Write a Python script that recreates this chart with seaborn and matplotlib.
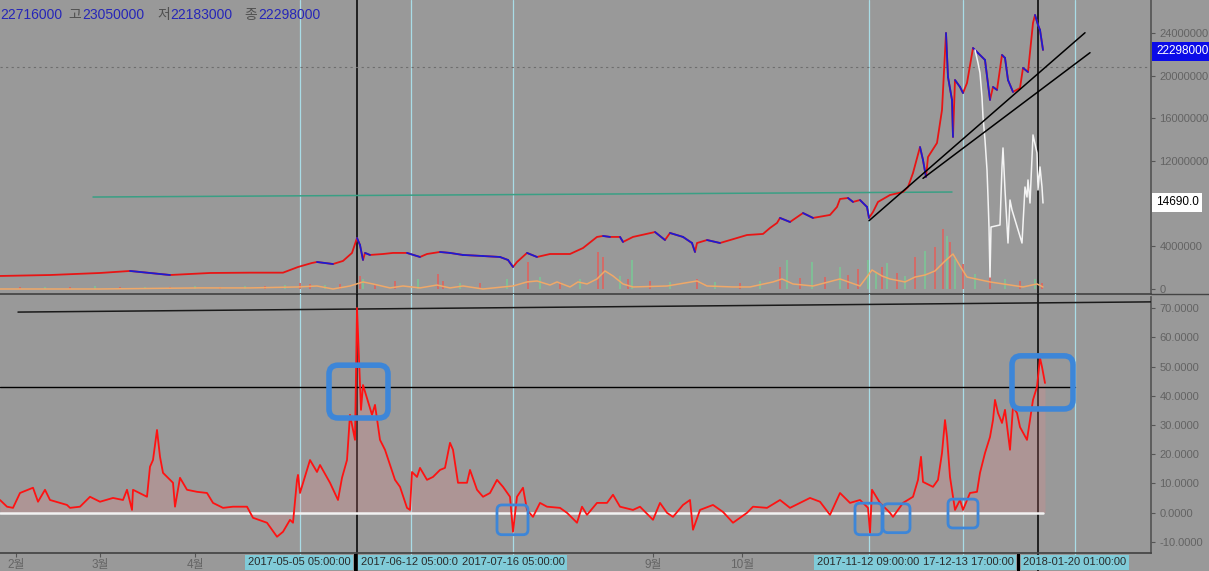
import numpy as np
import matplotlib.pyplot as plt
import matplotlib.transforms as mtransforms
from matplotlib.patches import FancyBboxPatch, Rectangle
from matplotlib.lines import Line2D
import seaborn as sns

sns.set_theme(style='white')
plt.rcParams['font.family'] = ['Liberation Sans', 'Noto Sans CJK KR']

BG = '#999999'

# price (bar index, million KRW)
price_x = [0, 50, 100, 130, 170, 210, 250, 283, 298, 312,
           317, 333, 343, 352, 357, 360, 363, 365, 370, 383,
           393, 407, 420, 427, 440, 450, 463, 483, 500, 508,
           513, 517, 527, 537, 550, 570, 583, 597, 603, 610,
           620, 623, 633, 655, 665, 670, 683, 692, 695, 697,
           707, 720, 737, 747, 763, 770, 777, 780, 790, 803,
           813, 830, 837, 840, 848, 853, 860, 867, 869, 873,
           878, 890, 903, 908, 913, 920, 923, 926, 928, 937,
           942, 946, 948, 952, 953, 955, 960, 963, 967, 973,
           978, 985, 990, 993, 997, 1002, 1005, 1008, 1013, 1020,
           1023, 1028, 1033, 1035, 1038, 1040, 1043]
price_m = [1.22, 1.31, 1.50, 1.69, 1.31, 1.50, 1.53, 1.53, 2.06, 2.44,
           2.53, 2.34, 2.63, 3.38, 4.78, 4.12, 2.72, 3.38, 3.19, 3.28,
           3.38, 3.38, 3.00, 3.28, 3.47, 3.38, 3.19, 3.09, 3.00, 2.72,
           2.06, 2.53, 3.38, 3.00, 3.28, 3.28, 3.84, 4.88, 4.97, 4.88,
           4.88, 4.41, 4.88, 5.34, 4.59, 5.25, 4.88, 4.31, 3.47, 4.31,
           4.59, 4.31, 4.78, 5.06, 5.16, 5.72, 6.19, 6.66, 6.28, 7.12,
           6.66, 6.94, 7.69, 8.44, 8.53, 8.16, 8.34, 7.69, 6.66, 7.22,
           8.16, 8.81, 9.09, 9.56, 10.87, 13.31, 12.09, 10.50, 12.37, 13.69,
           16.78, 24.0, 19.87, 17.72, 14.25, 19.59, 18.94, 18.37, 19.31, 22.59,
           22.12, 21.47, 17.72, 18.94, 18.66, 21.94, 21.66, 19.59, 18.47, 18.84,
           20.72, 20.34, 24.94, 25.69, 24.75, 24.28, 22.41]

# white overlay series
white_x = [975, 978, 980, 982, 983, 985, 987, 988, 989, 990, 991, 1000, 1002, 1003, 1005,
           1008, 1010, 1012, 1022, 1025, 1027, 1028, 1030, 1033, 1037, 1038, 1040, 1042, 1043]
white_m = [22.41, 21.19, 20.25, 18.0, 16.12, 13.97, 11.16, 8.62, 5.81, 1.12, 5.81, 6.0, 11.44, 13.22, 9.28,
           4.31, 8.34, 7.41, 4.31, 9.56, 8.62, 10.22, 8.06, 14.44, 12.75, 9.28, 11.44, 9.56, 8.06]

# volume bars + moving average
vol_x = [20, 45, 70, 95, 120, 145, 170, 195, 220, 245,
         265, 285, 300, 310, 325, 340, 360, 363, 375, 395,
         418, 438, 443, 460, 480, 507, 528, 540, 560, 580,
         598, 603, 620, 628, 632, 650, 670, 697, 715, 740,
         760, 780, 787, 800, 812, 825, 840, 848, 858, 868,
         876, 882, 887, 897, 905, 915, 925, 935, 943, 947,
         950, 955, 963, 975, 990, 1005, 1020, 1035, 1042]
vol_m = [0.15, 0.2, 0.15, 0.25, 0.2, 0.15, 0.2, 0.25, 0.2, 0.3,
         0.3, 0.35, 0.6, 0.5, 0.4, 0.5, 1.22, 0.94, 0.47, 0.75,
         0.94, 1.41, 0.75, 0.56, 0.56, 0.94, 2.53, 1.12, 0.66, 0.94,
         3.47, 3.0, 1.22, 0.94, 2.72, 0.75, 0.66, 0.94, 0.66, 0.56,
         0.75, 2.06, 2.72, 1.03, 2.53, 1.12, 2.06, 1.31, 1.87, 2.72,
         1.59, 2.06, 2.44, 1.5, 1.22, 3.0, 3.56, 3.94, 5.62, 4.97,
         4.41, 2.81, 2.34, 1.41, 1.12, 0.94, 0.75, 0.94, 0.56]
vol_dir = 'rgrgrgrgrg' 'rgrrgrrgrr' 'grrgrgrgrg' 'rrgrgrgrgr' 'grgrgrgrrg' 'grgrgrgrrg' 'rgrgrgrgr'
ma_x = [0, 100, 200, 250, 298, 317, 333, 350, 363, 373,
        390, 403, 420, 437, 450, 463, 483, 503, 513, 527,
        537, 550, 557, 570, 578, 587, 597, 605, 613, 623,
        633, 667, 697, 707, 733, 750, 773, 782, 793, 813,
        840, 860, 872, 882, 890, 905, 915, 925, 935, 945,
        953, 960, 967, 990, 1023, 1037, 1043]
ma_m = [0.0, 0.0, 0.1, 0.1, 0.19, 0.28, 0.0, 0.28, 0.66, 0.47,
        0.1, 0.28, 0.1, 0.37, 0.1, 0.28, 0.0, 0.19, 0.28, 0.66,
        0.75, 0.37, 0.66, 0.19, 0.66, 0.47, 0.94, 1.69, 1.22, 0.47,
        0.19, 0.28, 0.75, 0.28, 0.19, 0.19, 0.66, 0.94, 0.47, 0.28,
        0.94, 0.28, 1.78, 1.22, 0.94, 0.66, 1.12, 1.31, 1.69, 2.62,
        3.28, 2.16, 1.12, 0.66, 0.19, 0.47, 0.19]

# drawn lines on price panel
green_x = [93, 952]
green_m = [8.62, 9.09]
trend_x = [[869, 1085], [923, 1090]]
trend_m = [[6.40, 24.02], [10.37, 22.15]]
dotted_level = 20.8

# oscillator
osc_x = [0, 7, 13, 20, 33, 38, 45, 50, 67, 70,
         80, 90, 100, 113, 123, 127, 132, 133, 147, 150,
         153, 157, 160, 163, 173, 175, 180, 187, 197, 207,
         213, 223, 233, 247, 253, 267, 277, 283, 290, 293,
         297, 298, 300, 310, 317, 320, 330, 338, 342, 347,
         350, 355, 357, 359, 361, 363, 366, 369, 372, 375,
         380, 385, 390, 395, 400, 407, 410, 412, 417, 420,
         427, 433, 440, 445, 450, 453, 458, 467, 470, 477,
         483, 490, 497, 503, 510, 513, 517, 523, 527, 533,
         540, 547, 560, 567, 577, 582, 587, 597, 607, 613,
         620, 633, 640, 653, 660, 667, 673, 683, 690, 693,
         700, 713, 723, 733, 747, 753, 767, 780, 790, 800,
         810, 820, 830, 840, 850, 860, 868, 870, 872, 880,
         890, 893, 903, 913, 918, 921, 923, 933, 938, 942,
         945, 947, 950, 955, 960, 963, 970, 977, 980, 985,
         990, 993, 995, 998, 1002, 1005, 1010, 1013, 1017, 1020,
         1027, 1030, 1033, 1037, 1040, 1042, 1045]
osc_v = [4.3, 2.0, 1.6, 6.7, 8.5, 3.7, 7.8, 4.3, 2.6, 1.6,
         2.0, 5.4, 3.7, 5.0, 4.3, 7.8, 0.9, 7.8, 5.4, 15.7,
         18.0, 28.3, 19.1, 13.6, 10.2, 2.0, 11.9, 7.8, 7.1, 6.7,
         3.3, 1.6, 2.0, 2.0, -1.8, -3.5, -8.3, -6.6, -2.5, -3.5,
         11.2, 12.9, 6.7, 18.0, 13.9, 16.3, 10.2, 4.3, 11.9, 18.0,
         33.5, 24.9, 70.1, 52.3, 35.2, 43.7, 40.3, 36.9, 33.5, 36.9,
         24.9, 21.5, 16.3, 11.2, 8.8, 1.6, 0.9, 13.9, 12.2, 15.3,
         11.2, 12.2, 14.6, 15.3, 23.9, 21.5, 10.2, 10.2, 14.6, 7.8,
         5.4, 6.7, 11.2, 8.8, 5.4, -6.6, 5.4, 8.5, 0.9, -1.5,
         3.3, 2.0, 1.6, -0.1, -3.5, 2.0, -0.8, 3.3, 3.3, 6.1,
         2.0, 0.9, 2.0, -2.5, 3.3, -0.1, -1.5, 2.6, 4.3, -5.9,
         0.9, 2.6, 0.2, -3.5, -0.1, 2.0, 1.6, 4.3, 1.6, 3.3,
         5.0, 3.7, -0.8, 6.7, 3.3, 4.3, 1.6, -7.0, 7.8, 3.3,
         -0.1, -1.5, 3.3, 5.4, 11.2, 19.1, 10.5, 8.8, 11.2, 20.4,
         31.7, 25.9, 12.2, 0.9, 4.3, 0.9, 6.7, 7.1, 13.6, 20.4,
         25.9, 31.7, 38.6, 34.1, 30.7, 35.2, 21.5, 36.2, 34.1, 29.3,
         24.9, 31.7, 38.6, 43.1, 53.0, 49.9, 44.4]
slant_x = [18, 1151]
slant_v = [68.7, 72.2]
level_v, level_end = 43.0, 1075
zero_end = 1043

# blue highlight boxes on oscillator
box_x0 = [329, 1012, 497, 855, 883, 948]
box_x1 = [388, 1073, 528, 882, 910, 978]
box_lo = [32.4, 35.5, -7.6, -7.6, -6.9, -5.3]
box_hi = [50.5, 53.7, 2.6, 3.2, 3.0, 4.6]
box_lw = [4, 4, 2, 2, 2, 2]

# vertical markers and time labels (some labels cut off by their neighbours)
cyan_x = [300, 411, 513, 869, 963, 1075]
black_x = [357, 1038]
black_tag_x = [354, 1017]
date_x = [299, 409, 513, 868, 968, 1075]
date_lbl = ['2017-05-05 05:00:00', '2017-06-12 05:00:0', '2017-07-16 05:00:00',
            '2017-11-12 09:00:00', '17-12-13 17:00:00', '2018-01-20 01:00:00']
month_x = [16, 100, 195, 653, 742]
month_lbl = ['2월', '3월', '4월', '9월', '10월']

price_ticks = [0, 4, 8, 12, 16, 20, 24]
osc_ticks = [-10, 0, 10, 20, 30, 40, 50, 60, 70]

hdr_keys = ['', '고', '저', '종']
hdr_vals = ['22716000', '23050000', '22183000', '22298000']
hdr_key_px = [None, 68, 157, 244]
hdr_val_px = [0, 82, 170, 258]

W, H = 1209, 571
fig = plt.figure(figsize=(W / 100, H / 100), dpi=100)
fig.patch.set_facecolor(BG)
ax1 = fig.add_axes([0, 1 - 294 / H, 1151 / W, 294 / H])
ax2 = fig.add_axes([0, 1 - 553 / H, 1151 / W, 256 / H])

for ax in (ax1, ax2):
    ax.set_facecolor(BG)
    ax.set_xlim(0, 1151)
    ax.spines['left'].set_visible(False)
    ax.spines['top'].set_visible(False)
    ax.spines['right'].set_color('#555555')
    ax.spines['bottom'].set_color('#444444')
    ax.yaxis.tick_right()
    ax.tick_params(axis='y', length=3, width=0.8, color='#555555', labelcolor='#636363',
                   labelsize=8, pad=3, right=True, left=False)

ax1.set_ylim(-0.47, 27.09)
ax2.set_ylim(-13.87, 73.87)

# ---- price panel ----
for x in cyan_x:
    ax1.axvline(x, color='#a9dce6', lw=0.9, zorder=1)
for x in black_x:
    ax1.axvline(x, color='black', lw=1.1, zorder=1)
ax1.axhline(dotted_level, color='#6e6e6e', lw=0.8, ls=(0, (2, 3)), zorder=1)

bar_cols = ['#d66a66' if c == 'r' else '#7fc196' for c in vol_dir]
ax1.bar(vol_x, vol_m, width=1.8, color=bar_cols, edgecolor='none', linewidth=0, alpha=0.95, zorder=2)
sns.lineplot(x=ma_x, y=ma_m, ax=ax1, color='#f0a868', lw=1.1, estimator=None, sort=False, zorder=3)

sns.lineplot(x=green_x, y=green_m, ax=ax1, color='#3a9f84', lw=1.1, estimator=None, zorder=3)
sns.lineplot(x=price_x, y=price_m, ax=ax1, color='#e81414', lw=1.3, estimator=None, sort=False, zorder=4)
for i in range(len(price_x) - 1):
    if price_m[i + 1] < price_m[i]:
        ax1.plot(price_x[i:i + 2], price_m[i:i + 2], color='#1c1cd2', lw=1.3, zorder=4)
sns.lineplot(x=white_x, y=white_m, ax=ax1, color='#f4f4f4', lw=1.1, estimator=None, sort=False, zorder=5)
for tx, tm in zip(trend_x, trend_m):
    ax1.plot(tx, tm, color='black', lw=1.1, zorder=6)

ax1.set_xticks([])
ax1.set_yticks(price_ticks)
# the 8000000 label sits under the 14690.0 marker box
ax1.set_yticklabels(['' if t == 8 else f'{int(round(t * 1e6))}' for t in price_ticks])
ax1.set_ylabel('')

ax1.text(1156, 22.298, '22298000', color='white', fontsize=8.5, va='center', ha='left',
         bbox=dict(boxstyle='square,pad=0.3', fc='#0b0be8', ec='none'), clip_on=False, zorder=10)
ax1.text(1156, 8.15, '14690.0', color='black', fontsize=8.5, va='center', ha='left',
         bbox=dict(boxstyle='square,pad=0.3', fc='white', ec='none'), clip_on=False, zorder=10)

# ---- oscillator panel ----
for x in cyan_x:
    ax2.axvline(x, ymin=-0.03, ymax=1.012, color='#a9dce6', lw=0.9, zorder=1, clip_on=False)
for x in black_x:
    ax2.axvline(x, ymin=-0.075, ymax=1.012, color='black', lw=1.1, zorder=1, clip_on=False)

ax2.fill_between(osc_x, osc_v, 0, color='#ff8585', alpha=0.2, lw=0, zorder=2)
ax2.plot([0, zero_end], [0, 0], color='#f2f2f2', lw=1.8, zorder=3)
ax2.plot([0, level_end], [level_v, level_v], color='black', lw=1.0, zorder=3)
ax2.plot(slant_x, slant_v, color='#1a1a1a', lw=1.1, zorder=3)
sns.lineplot(x=osc_x, y=osc_v, ax=ax2, color='#ff1212', lw=1.3, estimator=None, sort=False, zorder=4)

for x0, x1, lo, hi, lw in zip(box_x0, box_x1, box_lo, box_hi, box_lw):
    r = 9 if lw > 3 else 5
    ax2.add_patch(FancyBboxPatch((x0, lo), x1 - x0, hi - lo,
                                 boxstyle=f'round,pad=0,rounding_size={r}',
                                 mutation_aspect=1 / 2.92, fc='none', ec='#3d86d8',
                                 lw=lw, zorder=6))

ax2.set_yticks(osc_ticks)
ax2.set_yticklabels([f'{t:.4f}' for t in osc_ticks])
ax2.set_ylabel('')
ax2.set_xticks(month_x)
ax2.set_xticklabels(month_lbl)
ax2.tick_params(axis='x', length=3, width=0.8, color='#555555', labelcolor='#656565',
                labelsize=8.5, pad=1, bottom=True)

trans = mtransforms.blended_transform_factory(ax2.transData, ax2.transAxes)
for x in black_tag_x:
    ax2.add_patch(Rectangle((x, -0.07), 3.5, 0.068, transform=trans, fc='black', ec='none',
                            clip_on=False, zorder=7))
for x, lbl in zip(date_x, date_lbl):
    ax2.text(x, -0.037, lbl, transform=trans, fontsize=8, color='#2a2a2a', ha='center', va='center',
             bbox=dict(boxstyle='square,pad=0.25', fc='#80cbd8', ec='none'), clip_on=False, zorder=8)

# separator line reaching the right edge
fig.add_artist(Line2D([1151 / W, 1], [1 - 294 / H, 1 - 294 / H], color='#444444', lw=1))

# header quote line
yh = 1 - 15 / H
for k, v, kp, vp in zip(hdr_keys, hdr_vals, hdr_key_px, hdr_val_px):
    if kp is not None:
        fig.text(kp / W, yh, k, color='#505050', fontsize=10, ha='left', va='center')
    fig.text(vp / W, yh, v, color='#2626b8', fontsize=10, ha='left', va='center')

fig.savefig('out.png', dpi=100, facecolor=BG)
